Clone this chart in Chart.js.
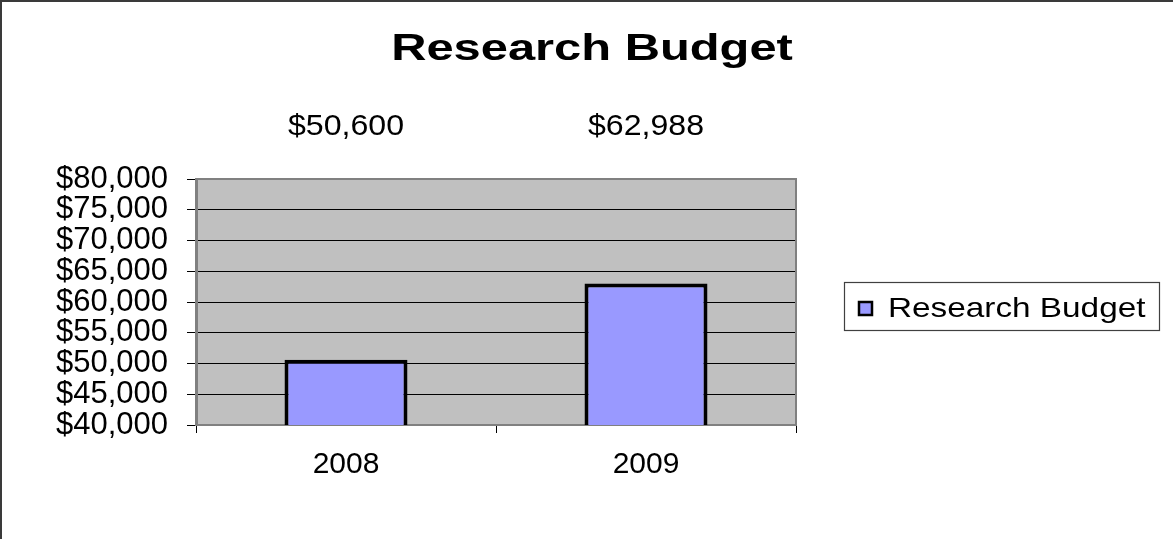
<!DOCTYPE html>
<html>
<head>
<meta charset="utf-8">
<title>Research Budget</title>
<script src="https://cdn.jsdelivr.net/npm/chart.js@4/dist/chart.umd.min.js"></script>
<style>
  html, body { margin: 0; padding: 0; background: #ffffff; }
  #wrap { width: 1173px; height: 539px; }
</style>
</head>
<body>
<div id="wrap"><canvas id="chart" width="1173" height="539"></canvas></div>
<script>
// Budget per year
const chartTitle = 'Research Budget';
const seriesName = 'Research Budget';
const years = ['2008', '2009'];
const budget = [50600, 62988];

// Value axis range
const yMin = 40000;
const yMax = 80000;
const yStep = 5000;

const FONT = '"Liberation Sans", Arial, Helvetica, sans-serif';
const money = v => '$' + Math.round(v).toLocaleString('en-US');

// Draw text with a slight horizontal stretch
function stretchedText(ctx, text, cx, baseline, font, sx) {
  ctx.save();
  ctx.font = font;
  ctx.fillStyle = '#000';
  ctx.textAlign = 'center';
  ctx.textBaseline = 'alphabetic';
  ctx.translate(cx, baseline);
  ctx.scale(sx, 1);
  ctx.fillText(text, 0, 0);
  ctx.restore();
}

const decorations = {
  id: 'decorations',
  beforeDraw(chart) {
    const { ctx, chartArea: a } = chart;
    ctx.save();
    ctx.fillStyle = '#ffffff';
    ctx.fillRect(0, 0, chart.width, chart.height);
    // plot background
    ctx.fillStyle = '#C0C0C0';
    ctx.fillRect(a.left, a.top, a.right - a.left, a.bottom - a.top);
    ctx.restore();
  },
  afterDraw(chart) {
    const { ctx, chartArea: a } = chart;
    ctx.save();
    // plot frame (top and right)
    ctx.strokeStyle = '#808080';
    ctx.lineWidth = 2;
    ctx.beginPath();
    ctx.moveTo(a.left, a.top);
    ctx.lineTo(a.right, a.top);
    ctx.lineTo(a.right, a.bottom);
    ctx.stroke();

    // outer frame
    ctx.strokeStyle = '#3a3a3a';
    ctx.lineWidth = 2;
    ctx.beginPath();
    ctx.moveTo(1, chart.height);
    ctx.lineTo(1, 1);
    ctx.lineTo(chart.width, 1);
    ctx.stroke();
    ctx.restore();

    // title
    stretchedText(ctx, chartTitle, 592, 60, 'bold 37px ' + FONT, 1.32);

    // value labels above the plot
    const meta = chart.getDatasetMeta(0);
    meta.data.forEach((bar, i) => {
      stretchedText(ctx, money(chart.data.datasets[0].data[i]), bar.x, 135, '30px ' + FONT, 1.07);
    });

    // legend
    ctx.save();
    ctx.strokeStyle = '#404040';
    ctx.lineWidth = 1.2;
    ctx.strokeRect(844.5, 282.5, 315, 48);
    const ds = chart.data.datasets[0];
    ctx.fillStyle = ds.backgroundColor;
    ctx.fillRect(859, 302, 13, 13);
    ctx.strokeStyle = '#000';
    ctx.lineWidth = 2.5;
    ctx.strokeRect(859, 302, 13, 13);
    ctx.restore();
    ctx.save();
    ctx.font = '28px ' + FONT;
    ctx.fillStyle = '#000';
    ctx.textAlign = 'left';
    ctx.textBaseline = 'alphabetic';
    ctx.translate(888, 317);
    ctx.scale(1.19, 1);
    ctx.fillText(ds.label, 0, 0);
    ctx.restore();
  }
};

new Chart(document.getElementById('chart'), {
  type: 'bar',
  data: {
    labels: years,
    datasets: [{
      label: seriesName,
      data: budget,
      backgroundColor: '#9999FF',
      borderColor: '#000000',
      borderWidth: 4,
      borderSkipped: false,
      barPercentage: 0.41,
      categoryPercentage: 1.0
    }]
  },
  options: {
    responsive: false,
    devicePixelRatio: 1,
    animation: false,
    layout: { padding: { top: 179, right: 377, bottom: 0, left: 0 } },
    plugins: {
      legend: { display: false },
      title: { display: false },
      tooltip: { enabled: false }
    },
    scales: {
      x: {
        grid: { offset: true, drawOnChartArea: false, drawTicks: true, tickLength: 8, color: '#000' },
        border: { display: true, color: '#808080', width: 2 },
        ticks: { color: '#000', font: { family: FONT, size: 30 }, padding: 14 },
        afterFit(scale) { scale.height = 114; }
      },
      y: {
        min: yMin,
        max: yMax,
        grid: { color: '#000', lineWidth: 1, drawTicks: true, tickLength: 9 },
        border: { display: true, color: '#808080', width: 3 },
        ticks: {
          stepSize: yStep,
          autoSkip: false,
          color: '#000',
          font: { family: FONT, size: 31 },
          padding: 19,
          callback: v => money(v)
        },
        afterFit(scale) { scale.width = 196; }
      }
    }
  },
  plugins: [decorations]
});
</script>
</body>
</html>
